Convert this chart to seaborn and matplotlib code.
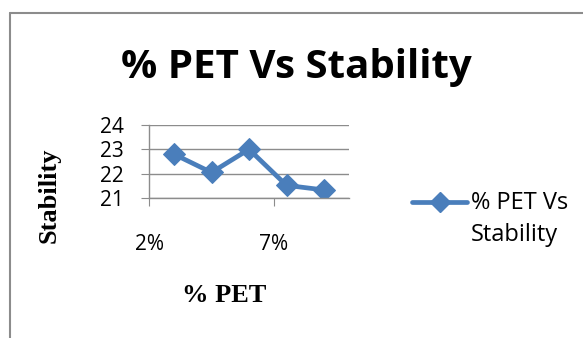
import pandas as pd
import matplotlib.pyplot as plt
import seaborn as sns
from matplotlib.lines import Line2D

# data
pet_pct = [3, 4.5, 6, 7.5, 9]
stability = [22.8, 22.05, 23.0, 21.52, 21.33]
x_ticks = [2, 7]
x_tick_labels = ["2%", "7%"]
y_ticks = [21, 22, 23, 24]
series_name = "% PET Vs\nStability"

df = pd.DataFrame({"pet": pet_pct, "stability": stability})

sns.set_style("white")
plt.rcParams['font.family'] = ['Open Sans', 'DejaVu Sans']
plt.rcParams['text.color'] = 'black'
plt.rcParams['xtick.color'] = 'black'
plt.rcParams['ytick.color'] = 'black'

W, H = 583, 338
fig = plt.figure(figsize=(W / 100, H / 100), dpi=100)
ax = fig.add_axes([149 / W, 1 - 198 / H, 200 / W, 73 / H])

blue = "#4A7EBB"
sns.lineplot(data=df, x="pet", y="stability", ax=ax, color=blue, linewidth=3.4,
             marker="D", markersize=11, markeredgecolor=blue, legend=False)

ax.set_xlim(2, 10)
ax.set_ylim(21, 24)
ax.set_xticks(x_ticks)
ax.set_xticklabels(x_tick_labels)
ax.set_yticks(y_ticks)
ax.grid(axis="y", color="#8c8c8c", linewidth=1)
ax.grid(axis="x", visible=False)
for side in ["top", "right"]:
    ax.spines[side].set_visible(False)
for side in ["left", "bottom"]:
    ax.spines[side].set_color("#8c8c8c")
    ax.spines[side].set_linewidth(1)
ax.tick_params(axis="x", direction="out", length=6, color="#8c8c8c", pad=20,
               labelsize=15, bottom=True)
ax.tick_params(axis="y", direction="out", length=6, color="#8c8c8c", pad=12,
               labelsize=15, left=True)
ax.set_xlabel("")
ax.set_ylabel("")

# axis titles in bold serif
fig.text(49 / W, 1 - 195 / H, "Stability", rotation=90, ha="center", va="center",
         fontsize=19, fontweight="bold", family="Liberation Serif")
fig.text(224 / W, 1 - 295 / H, "% PET", ha="center", va="center",
         fontsize=19, fontweight="bold", family="Liberation Serif")

# chart title
fig.text(296 / W, 1 - 78 / H, "% PET Vs Stability", ha="center", va="baseline",
         fontsize=29, fontweight="bold")

# legend entry: handle sits on the first text line, as in the reference
leg_y = 1 - 202 / H
fig.add_artist(Line2D([412 / W, 467 / W], [leg_y, leg_y], color=blue, linewidth=3.4))
fig.add_artist(Line2D([439.5 / W], [leg_y], color=blue, marker="D", markersize=10,
                      linestyle="none"))
fig.text(471 / W, 1 - 191 / H, series_name, ha="left", va="top", fontsize=17,
         linespacing=1.45)

# chart area border (left and top visible)
fig.add_artist(Line2D([9.5 / W, 9.5 / W], [0, 1 - 13 / H], color="#8c8c8c", linewidth=1.5))
fig.add_artist(Line2D([9.5 / W, 1], [1 - 13 / H, 1 - 13 / H], color="#8c8c8c", linewidth=1.5))

fig.savefig("out.png", dpi=100)
